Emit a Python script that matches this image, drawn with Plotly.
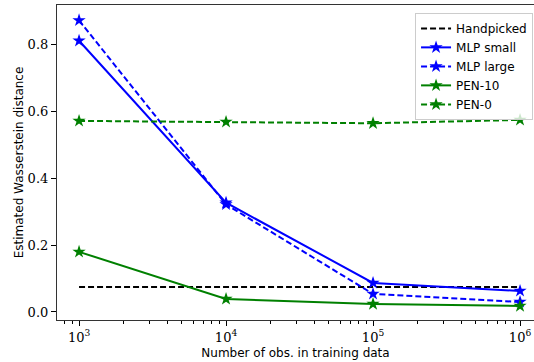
import plotly.graph_objects as go

n_obs = [1e3, 1e4, 1e5, 1e6]
handpicked = [0.075, 0.075, 0.075, 0.075]
mlp_small = [0.812, 0.327, 0.087, 0.063]
mlp_large = [0.873, 0.322, 0.054, 0.030]
pen_10 = [0.180, 0.039, 0.024, 0.018]
pen_0 = [0.572, 0.569, 0.565, 0.575]

x_tickvals = [1e3, 1e4, 1e5, 1e6]
x_ticktext = ["10<sup>3</sup>", "10<sup>4</sup>", "10<sup>5</sup>", "10<sup>6</sup>"]
x_minor_vals = [m * d for d in [1e2, 1e3, 1e4, 1e5] for m in range(2, 10)]
y_tickvals = [0.0, 0.2, 0.4, 0.6, 0.8]
y_ticktext = ["0.0", "0.2", "0.4", "0.6", "0.8"]

BLUE = "#0000ff"
GREEN = "#008000"
DASH = "6px,3px"
SERIF = "DejaVu Serif"
X_RANGE = [2.85, 6.095]

fig = go.Figure()
fig.add_trace(go.Scatter(x=n_obs, y=handpicked, name="Handpicked", mode="lines",
                         line=dict(color="black", width=2, dash=DASH)))
series = [
    ("MLP small", mlp_small, BLUE, "solid"),
    ("MLP large", mlp_large, BLUE, DASH),
    ("PEN-10", pen_10, GREEN, "solid"),
    ("PEN-0", pen_0, GREEN, DASH),
]
for name, ys, col, dash in series:
    fig.add_trace(go.Scatter(x=n_obs, y=ys, name=name, mode="lines+markers",
                             line=dict(color=col, width=2, dash=dash),
                             marker=dict(symbol="star", size=10, color=col,
                                         line=dict(width=0))))
# invisible carrier trace for the minor-tick axis
fig.add_trace(go.Scatter(x=n_obs, y=handpicked, xaxis="x2", mode="lines",
                         line=dict(width=0), opacity=0, showlegend=False, hoverinfo="skip"))

fig.update_layout(
    width=534, height=362,
    margin=dict(l=57, r=0, t=5, b=42, autoexpand=False),
    plot_bgcolor="white", paper_bgcolor="white",
    showlegend=True,
    legend=dict(x=0.998, y=0.975, xanchor="right", yanchor="top",
                bgcolor="rgba(255,255,255,0.8)", bordercolor="#cccccc", borderwidth=1,
                font=dict(family="DejaVu Sans", size=12, color="black"),
                tracegroupgap=0, itemwidth=30),
    font=dict(family="DejaVu Sans", color="black"),
    xaxis2=dict(type="log", range=X_RANGE, overlaying="x", side="bottom",
                tickmode="array", tickvals=x_minor_vals, showticklabels=False,
                ticks="outside", ticklen=3, tickwidth=1, tickcolor="black",
                showgrid=False, zeroline=False, showline=False),
)
fig.update_xaxes(
    selector=dict(anchor="y"),
)
fig.layout.xaxis.update(
    type="log", range=X_RANGE,
    tickmode="array", tickvals=x_tickvals, ticktext=x_ticktext,
    tickfont=dict(family=SERIF, size=13, color="black"),
    ticks="outside", ticklen=5, tickwidth=1, tickcolor="black",
    showline=True, linecolor="#333333", linewidth=1.2, mirror=True,
    showgrid=False, zeroline=False,
    title=dict(text="Number of obs. in training data", font=dict(size=12, family="DejaVu Sans"), standoff=4),
)
fig.update_yaxes(
    range=[-0.024, 0.919],
    tickvals=y_tickvals, ticktext=y_ticktext,
    tickfont=dict(family=SERIF, size=13, color="black"),
    ticks="outside", ticklen=5, tickwidth=1, tickcolor="black",
    showline=True, linecolor="#333333", linewidth=1.2, mirror=False,
    showgrid=False, zeroline=False,
    title=dict(text="Estimated Wasserstein distance", font=dict(size=12, family="DejaVu Sans"), standoff=1),
)

fig.write_html("out.html", config={"displayModeBar": False},
               post_script="document.body.style.margin='0';")
